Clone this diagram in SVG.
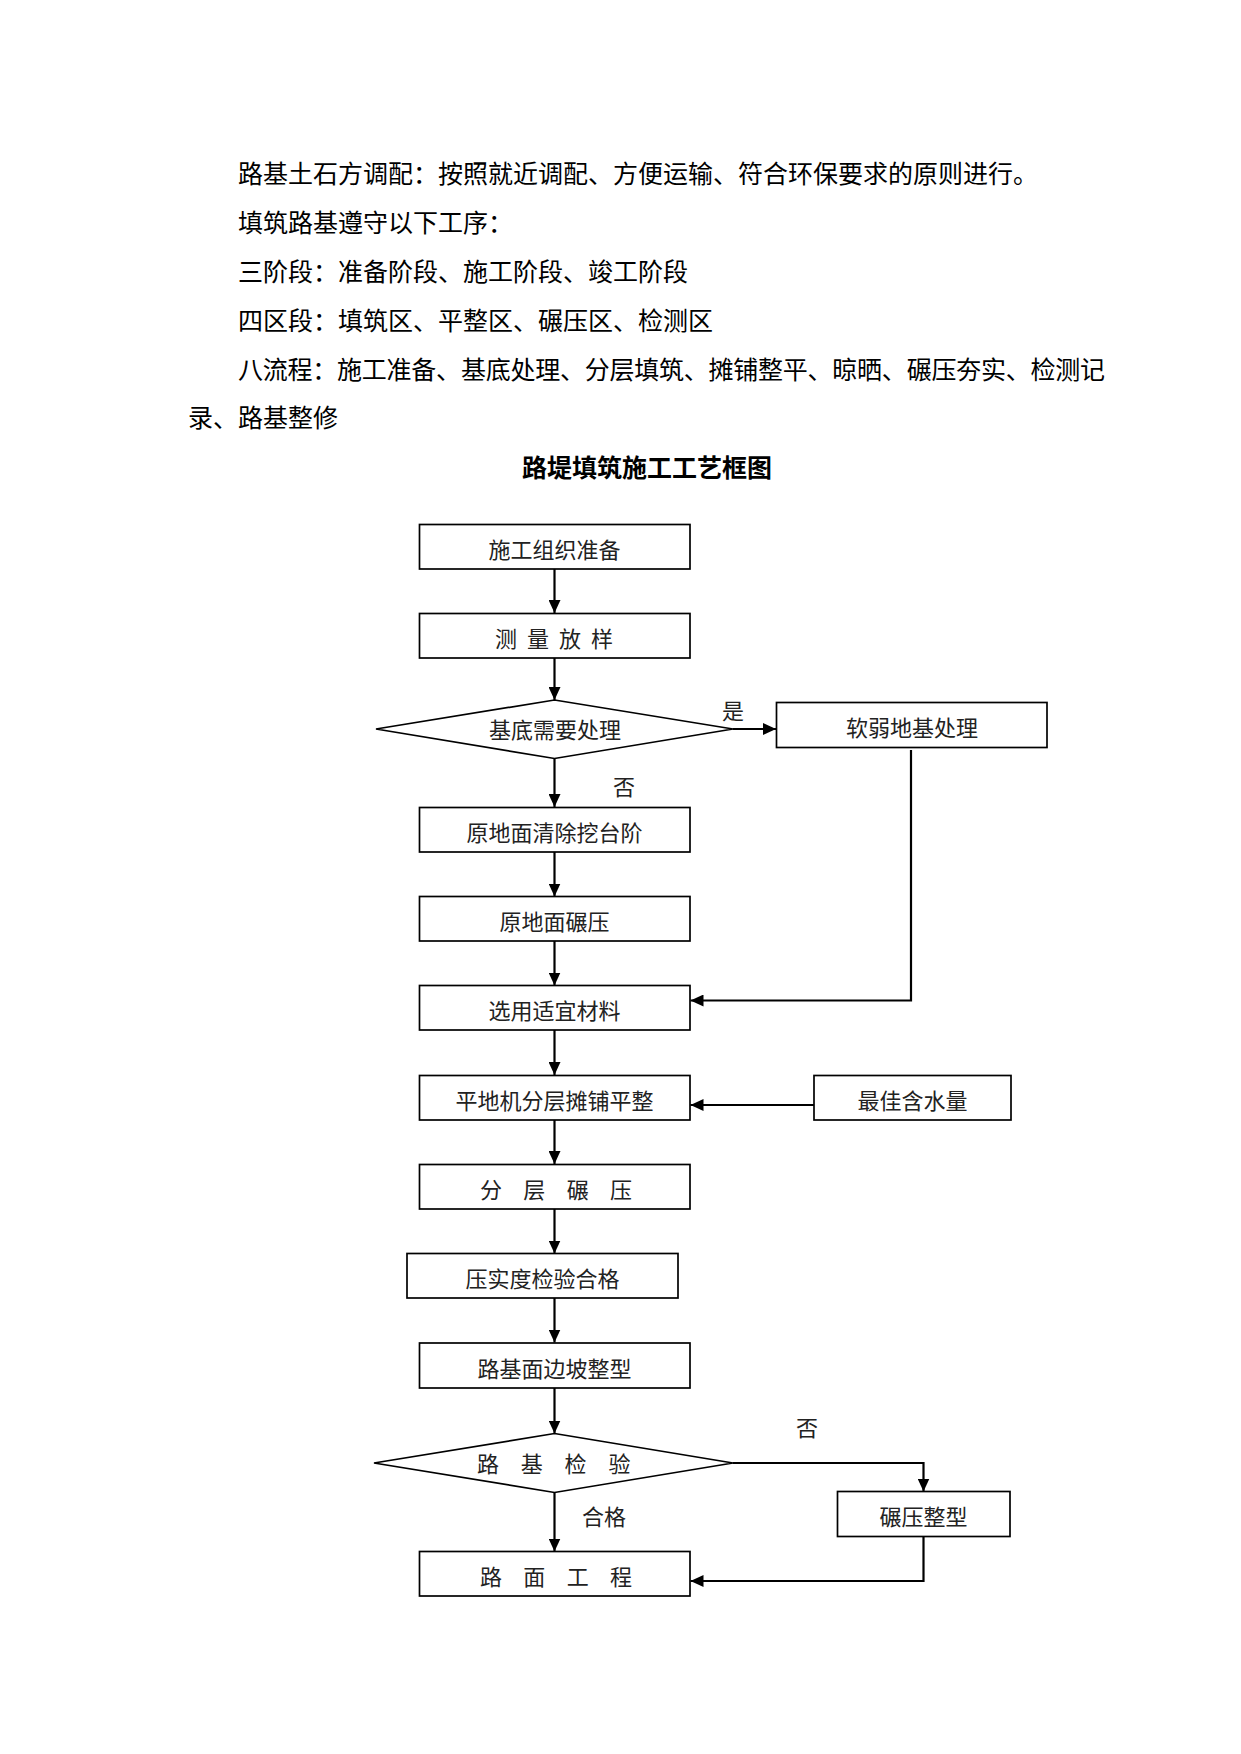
<svg xmlns="http://www.w3.org/2000/svg" width="1241" height="1754" viewBox="0 0 1241 1754">
<defs>
<style>
.p{font-family:"Noto Sans CJK SC","Noto Sans CJK JP",sans-serif;font-size:25px;fill:#000}
.t{font-family:"Noto Sans CJK SC","Noto Sans CJK JP",sans-serif;font-size:25px;font-weight:bold;fill:#000}
.n{font-family:"Noto Sans CJK SC","Noto Sans CJK JP",sans-serif;font-size:22px;fill:#222;text-anchor:middle}
.b{fill:#fff;stroke:#000;stroke-width:1.7}
.c{fill:none;stroke:#000;stroke-width:2.2}
</style>
<marker id="ah" markerUnits="userSpaceOnUse" markerWidth="14" markerHeight="12" refX="13" refY="6" orient="auto">
<path d="M0,0 L13,6 L0,12 z" fill="#000"/>
</marker>
</defs>
<rect width="1241" height="1754" fill="#fff"/>
<g id="paragraphs">
<text class="p" x="238" y="183">路基土石方调配：按照就近调配、方便运输、符合环保要求的原则进行。</text>
<text class="p" x="238" y="232">填筑路基遵守以下工序：</text>
<text class="p" x="238" y="281">三阶段：准备阶段、施工阶段、竣工阶段</text>
<text class="p" x="238" y="330">四区段：填筑区、平整区、碾压区、检测区</text>
<text class="p" x="238" y="379" textLength="867" lengthAdjust="spacing">八流程：施工准备、基底处理、分层填筑、摊铺整平、晾晒、碾压夯实、检测记</text>
<text class="p" x="188" y="427">录、路基整修</text>
<text class="t" x="647" y="477" text-anchor="middle">路堤填筑施工工艺框图</text>
</g>
<g id="connectors">
<line class="c" x1="554.5" y1="569" x2="554.5" y2="613" marker-end="url(#ah)"/>
<line class="c" x1="554.5" y1="658" x2="554.5" y2="700" marker-end="url(#ah)"/>
<line class="c" x1="733" y1="729" x2="776" y2="729" marker-end="url(#ah)"/>
<polyline class="c" points="911,750 911,1000.5 690.5,1000.5" marker-end="url(#ah)"/>
<line class="c" x1="554.5" y1="759" x2="554.5" y2="807" marker-end="url(#ah)"/>
<line class="c" x1="554.5" y1="852" x2="554.5" y2="896.5" marker-end="url(#ah)"/>
<line class="c" x1="554.5" y1="941" x2="554.5" y2="985.5" marker-end="url(#ah)"/>
<line class="c" x1="554.5" y1="1030" x2="554.5" y2="1075" marker-end="url(#ah)"/>
<line class="c" x1="814" y1="1105" x2="690.5" y2="1105" marker-end="url(#ah)"/>
<line class="c" x1="554.5" y1="1120" x2="554.5" y2="1164" marker-end="url(#ah)"/>
<line class="c" x1="554.5" y1="1209" x2="554.5" y2="1253.5" marker-end="url(#ah)"/>
<line class="c" x1="554.5" y1="1298" x2="554.5" y2="1342.5" marker-end="url(#ah)"/>
<line class="c" x1="554.5" y1="1388" x2="554.5" y2="1433.5" marker-end="url(#ah)"/>
<polyline class="c" points="733,1463 923.5,1463 923.5,1491.5" marker-end="url(#ah)"/>
<line class="c" x1="554.5" y1="1492" x2="554.5" y2="1551.5" marker-end="url(#ah)"/>
<polyline class="c" points="923.5,1537 923.5,1581 690.5,1581" marker-end="url(#ah)"/>
</g>
<g id="labels">
<text class="n" x="733" y="719">是</text>
<text class="n" x="624" y="795">否</text>
<text class="n" x="807" y="1436">否</text>
<text class="n" x="604" y="1525">合格</text>
</g>
<g id="n1"><rect class="b" x="419.5" y="524.5" width="270.5" height="44.5"/><text class="n" x="554.5" y="558">施工组织准备</text></g>
<g id="n2"><rect class="b" x="419.5" y="613.5" width="270.5" height="44.5"/><text class="n" y="647"><tspan x="506">测</tspan><tspan x="538">量</tspan><tspan x="570">放</tspan><tspan x="602">样</tspan></text></g>
<g id="n3"><polygon class="b" points="554.5,700 733,729 554.5,758.5 376,729"/><text class="n" x="555" y="738">基底需要处理</text></g>
<g id="n4"><rect class="b" x="776.5" y="702.5" width="270.5" height="45"/><text class="n" x="912" y="736">软弱地基处理</text></g>
<g id="n5"><rect class="b" x="419.5" y="807.5" width="270.5" height="44.5"/><text class="n" x="554.5" y="841">原地面清除挖台阶</text></g>
<g id="n6"><rect class="b" x="419.5" y="896.5" width="270.5" height="44.5"/><text class="n" x="554.5" y="930">原地面碾压</text></g>
<g id="n7"><rect class="b" x="419.5" y="985.5" width="270.5" height="44.5"/><text class="n" x="554.5" y="1019">选用适宜材料</text></g>
<g id="n8"><rect class="b" x="419.5" y="1075.5" width="270.5" height="44.5"/><text class="n" x="554.5" y="1109">平地机分层摊铺平整</text></g>
<g id="n9"><rect class="b" x="814" y="1075.5" width="197" height="44.5"/><text class="n" x="912.5" y="1109">最佳含水量</text></g>
<g id="n10"><rect class="b" x="419.5" y="1164.5" width="270.5" height="44.5"/><text class="n" y="1198"><tspan x="491">分</tspan><tspan x="534.3">层</tspan><tspan x="577.7">碾</tspan><tspan x="621">压</tspan></text></g>
<g id="n11"><rect class="b" x="407" y="1253.5" width="271" height="44.5"/><text class="n" x="542.5" y="1287">压实度检验合格</text></g>
<g id="n12"><rect class="b" x="419.5" y="1343" width="270.5" height="45"/><text class="n" x="554.5" y="1377">路基面边坡整型</text></g>
<g id="n13"><polygon class="b" points="554.5,1433.5 733,1463 554.5,1492.5 374,1463"/><text class="n" y="1472"><tspan x="488">路</tspan><tspan x="531.8">基</tspan><tspan x="575.6">检</tspan><tspan x="619.5">验</tspan></text></g>
<g id="n14"><rect class="b" x="837.5" y="1491.5" width="172.5" height="45"/><text class="n" x="923.5" y="1525">碾压整型</text></g>
<g id="n15"><rect class="b" x="419.5" y="1551.5" width="270.5" height="44.5"/><text class="n" y="1585"><tspan x="491">路</tspan><tspan x="534.3">面</tspan><tspan x="577.7">工</tspan><tspan x="621">程</tspan></text></g>
</svg>
